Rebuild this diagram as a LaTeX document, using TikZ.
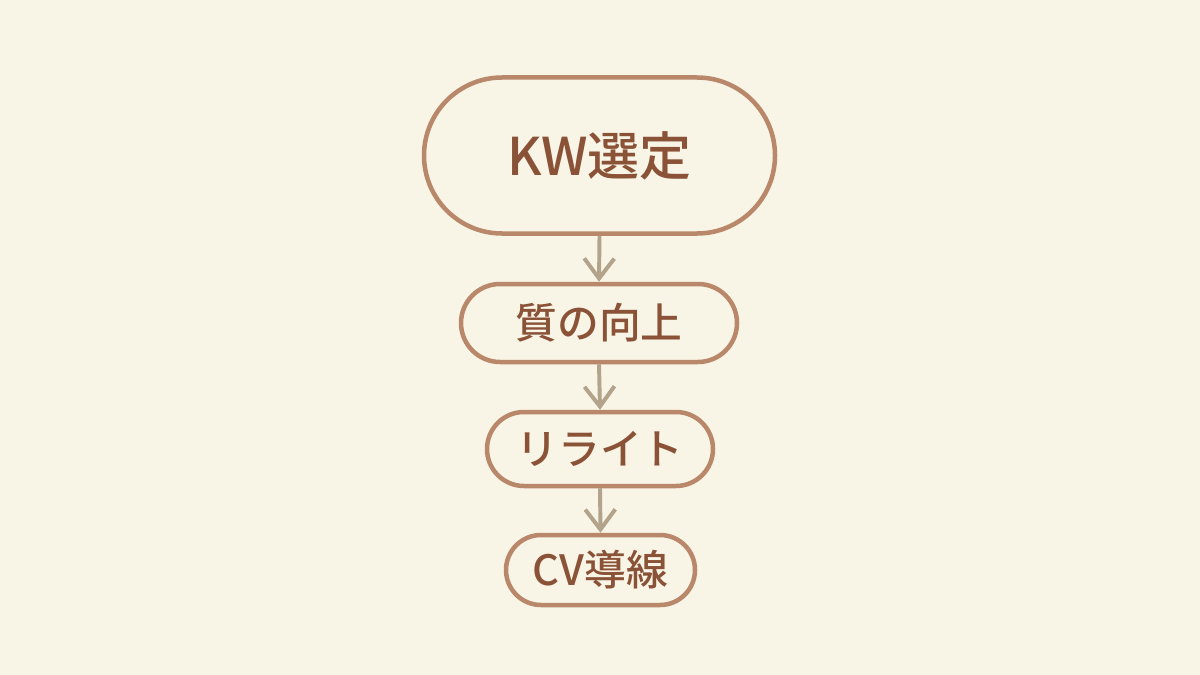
\documentclass[tikz,border=0pt]{standalone}
\usepackage{fontspec}
\setmainfont{Noto Sans CJK JP}
\newfontfamily\medfont{Noto Sans CJK JP Medium}
\usetikzlibrary{arrows.meta}
\definecolor{bg}{HTML}{F8F4E6}
\definecolor{bordc}{HTML}{B9876A}
\definecolor{txtc}{HTML}{8A5236}
\definecolor{arrc}{HTML}{B2A38A}
\tikzset{
  pill/.style={draw=bordc, line width=3.2pt, fill=bg, text=txtc, inner sep=0pt, align=center},
  flow/.style={draw=arrc, line width=2.8pt, -{Straight Barb[length=0.5cm, width=0.75cm, line width=2.8pt]}}
}
\begin{document}
\begin{tikzpicture}[x=0.025cm, y=-0.025cm]
\fill[bg] (0,0) rectangle (1200,675);
\useasboundingbox (0,0) rectangle (1200,675);
\node[pill, minimum width=351*0.025cm, minimum height=156*0.025cm, rounded corners=78*0.025cm, font=\fontsize{37}{40}\medfont] (n1) at (599.5,155.5) {KW選定};
\node[pill, minimum width=276*0.025cm, minimum height=78*0.025cm, rounded corners=39*0.025cm, font=\fontsize{29.7}{32}\medfont] (n2) at (599,323) {質の向上};
\node[pill, minimum width=226*0.025cm, minimum height=74*0.025cm, rounded corners=37*0.025cm, font=\fontsize{29.7}{32}\medfont] (n3) at (600,449) {リライト};
\node[pill, minimum width=189*0.025cm, minimum height=70*0.025cm, rounded corners=35*0.025cm, font=\fontsize{29.7}{32}\medfont] (n4) at (600.5,570) {CV導線};
\draw[flow] (n1.south) -- (n2.north);
\draw[flow] (n2.south) -- (n3.north);
\draw[flow] (n3.south) -- (n4.north);
\end{tikzpicture}
\end{document}
